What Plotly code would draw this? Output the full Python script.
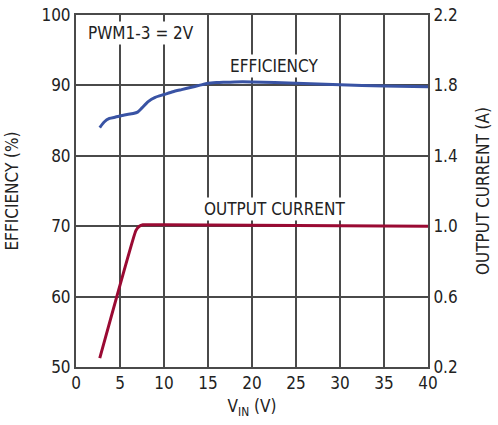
import plotly.graph_objects as go

vin_eff = [2.7, 3.2, 3.8, 4.5, 5.5, 6.5, 7.0, 7.5, 8.2, 9.0, 10, 11, 12, 13, 14, 15, 16, 17, 18, 20, 25, 30, 35, 40]
efficiency = [84.0, 84.8, 85.3, 85.5, 85.8, 86.0, 86.2, 86.8, 87.7, 88.3, 88.7, 89.1, 89.4, 89.7, 90.0, 90.3, 90.4, 90.45, 90.5, 90.5, 90.3, 90.1, 89.9, 89.8]

vin_cur = [2.7, 6.8, 7.2, 7.6, 8.5, 10, 20, 30, 40]
current = [0.25, 0.975, 1.0, 1.008, 1.008, 1.008, 1.005, 1.002, 1.0]

x_ticks = [0, 5, 10, 15, 20, 25, 30, 35, 40]
y_ticks = [50, 60, 70, 80, 90, 100]
y2_ticks = [0.2, 0.6, 1.0, 1.4, 1.8, 2.2]
y2_labels = ["0.2", "0.6", "1.0", "1.4", "1.8", "2.2"]

FONT = "DejaVu Sans Condensed, Roboto, sans-serif"
GRID = "#4a4a4a"
FS = 17

fig = go.Figure()
fig.add_trace(go.Scatter(x=vin_eff, y=efficiency, mode="lines", line=dict(color="#3953a4", width=3, shape="spline", smoothing=0.6), yaxis="y", showlegend=False))
fig.add_trace(go.Scatter(x=vin_cur, y=current, mode="lines", line=dict(color="#9a0a33", width=3, shape="spline", smoothing=0.3), yaxis="y2", showlegend=False))

fig.update_layout(
    width=498, height=425,
    margin=dict(l=76, r=70, t=15, b=58),
    paper_bgcolor="white", plot_bgcolor="white",
    font=dict(family=FONT, size=FS, color="#222222"),
    xaxis=dict(range=[0, 40], tickvals=x_ticks, showgrid=True, gridcolor=GRID, gridwidth=1.5, automargin=False,
               showline=True, linecolor=GRID, linewidth=2, mirror=True, ticks="", zeroline=False,
               title=dict(text="V<sub>IN</sub> (V)", standoff=8, font=dict(size=FS)), tickfont=dict(size=FS)),
    yaxis=dict(range=[50, 100], tickvals=y_ticks, showgrid=True, gridcolor=GRID, gridwidth=1.5, automargin=False,
               showline=True, linecolor=GRID, linewidth=2, ticks="", zeroline=False,
               title=dict(text="EFFICIENCY (%)", standoff=18, font=dict(size=FS)), tickfont=dict(size=FS)),
    yaxis2=dict(range=[0.2, 2.2], tickvals=y2_ticks, ticktext=y2_labels, overlaying="y", side="right", automargin=False,
                showgrid=False, showline=True, linecolor=GRID, linewidth=2, ticks="", zeroline=False,
                title=dict(text="OUTPUT CURRENT (A)", standoff=20, font=dict(size=FS)), tickfont=dict(size=FS)),
    annotations=[
        dict(text="PWM1-3 = 2V", x=1.1, y=97.5, xref="x", yref="y", xanchor="left", yanchor="middle",
             showarrow=False, bgcolor="white", font=dict(size=FS)),
        dict(text="EFFICIENCY", x=22.5, y=92.8, xref="x", yref="y", xanchor="center", yanchor="middle",
             showarrow=False, bgcolor="white", font=dict(size=FS)),
        dict(text="OUTPUT CURRENT", x=22.5, y=72.4, xref="x", yref="y", xanchor="center", yanchor="middle",
             showarrow=False, bgcolor="white", font=dict(size=FS)),
    ],
)
fig.write_html("out.html", config={"displayModeBar": False}, post_script="document.body.style.margin='0';")
